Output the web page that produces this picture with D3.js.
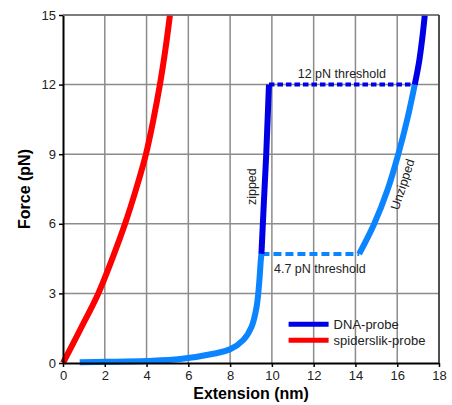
<!DOCTYPE html>
<meta charset="utf-8">
<style>
body { margin: 0; background: #fff; }
svg { font-family: "Liberation Sans", Arial, sans-serif; }
.grid line { stroke: #8c8c8c; stroke-width: 1.5; }
.axis .domain { stroke: #000; stroke-width: 2; }
.axis .tick line { stroke: #000; stroke-width: 1.5; }
.axis text { font-size: 13px; fill: #222; }
</style>
<svg width="452" height="405"></svg>
<script src="https://d3js.org/d3.v7.min.js"></script>
<script>

// tick values
var xTicks = [0, 2, 4, 6, 8, 10, 12, 14, 16, 18];
var yTicks = [0, 3, 6, 9, 12, 15];

// spiderslik-probe (red)
var spiderX = [0, 0.86, 1.69, 2.36, 2.97, 3.5, 3.97, 4.33, 4.64, 4.9, 5.12];
var spiderF = [0, 1.5, 3, 4.5, 6, 7.5, 9, 10.5, 12, 13.5, 15];

// DNA-probe, light blue stretch before the first threshold
var stretchX = [0.8, 2, 4, 5.6, 7.2, 8, 8.63, 9.03, 9.27, 9.39, 9.47, 9.5];
var stretchF = [0.03, 0.05, 0.09, 0.17, 0.4, 0.59, 0.99, 1.57, 2.43, 3.43, 4.44, 4.7];

// DNA-probe, zipped (dark blue)
var zippedX = [9.5, 9.62, 9.73, 9.8, 9.86];
var zippedF = [4.7, 7, 9, 10.6, 12];

// DNA-probe, unzipped (light blue)
var unzipX = [14.18, 14.9, 15.55, 16.05, 16.48, 16.84];
var unzipF = [4.7, 6, 7.5, 9, 10.5, 12];

// DNA-probe above 12 pN (dark blue)
var topX = [16.84, 17.05, 17.2, 17.32];
var topF = [12, 13, 14, 15];

// thresholds
var lowThreshold = {force: 4.7, from: 9.5, to: 14.18, label: "4.7 pN threshold"};
var highThreshold = {force: 12, from: 9.86, to: 16.84, label: "12 pN threshold"};

var legendNames = ["DNA-probe", "spiderslik-probe"];
var legendColors = ["#0000e6", "#ff0000"];

var darkBlue = "#0000e6", lightBlue = "#0a84ff", red = "#ff0000";

var svg = d3.select("svg"),
    margin = {top: 15, right: 13, bottom: 42, left: 63},
    width = +svg.attr("width") - margin.left - margin.right,
    height = +svg.attr("height") - margin.top - margin.bottom,
    g = svg.append("g").attr("transform", "translate(" + margin.left + "," + margin.top + ")");

var x = d3.scaleLinear().domain([0, 18]).range([0, width]);
var y = d3.scaleLinear().domain([0, 15]).range([height, 0]);

// grid
var grid = g.append("g").attr("class", "grid");
grid.selectAll(".gx")
  .data(xTicks.slice(1))
  .enter().append("line")
    .attr("x1", function(d) { return x(d); })
    .attr("x2", function(d) { return x(d); })
    .attr("y1", 0)
    .attr("y2", height);
grid.selectAll(".gy")
  .data(yTicks.slice(1))
  .enter().append("line")
    .attr("x1", 0)
    .attr("x2", width)
    .attr("y1", function(d) { return y(d); })
    .attr("y2", function(d) { return y(d); });

var line = d3.line()
    .x(function(d) { return x(d[0]); })
    .y(function(d) { return y(d[1]); })
    .curve(d3.curveCatmullRom.alpha(0.5));

function pairs(xs, fs) {
  return xs.map(function(v, i) { return [v, fs[i]]; });
}

function drawThreshold(t, color, dash) {
  g.append("line")
      .attr("x1", x(t.from))
      .attr("x2", x(t.to))
      .attr("y1", y(t.force))
      .attr("y2", y(t.force))
      .attr("stroke", color)
      .attr("stroke-width", 4)
      .attr("stroke-dasharray", dash);
}

drawThreshold(lowThreshold, lightBlue, "8,4");
drawThreshold(highThreshold, darkBlue, "5.5,3");

var curves = [
  {xs: stretchX, fs: stretchF, color: lightBlue},
  {xs: unzipX, fs: unzipF, color: lightBlue},
  {xs: zippedX, fs: zippedF, color: darkBlue},
  {xs: topX, fs: topF, color: darkBlue},
  {xs: spiderX, fs: spiderF, color: red}
];

curves.forEach(function(c) {
  g.append("path")
      .datum(pairs(c.xs, c.fs))
      .attr("fill", "none")
      .attr("stroke", c.color)
      .attr("stroke-width", 6)
      .attr("d", line);
});

// axes
g.append("g")
    .attr("class", "axis")
    .attr("transform", "translate(0," + height + ")")
    .call(d3.axisBottom(x).tickValues(xTicks).tickSize(4).tickSizeOuter(0).tickPadding(4));

g.append("g")
    .attr("class", "axis")
    .call(d3.axisLeft(y).tickValues(yTicks).tickSize(4).tickSizeOuter(0).tickPadding(3));

// frame on top and right
g.append("line").attr("x1", 0).attr("x2", width).attr("y1", 0).attr("y2", 0)
    .attr("stroke", "#6e6e6e").attr("stroke-width", 1.5);
g.append("line").attr("x1", width).attr("x2", width).attr("y1", 0).attr("y2", height)
    .attr("stroke", "#333").attr("stroke-width", 1.5);

// axis titles
svg.append("text")
    .attr("x", margin.left + width / 2)
    .attr("y", 399)
    .attr("text-anchor", "middle")
    .attr("font-size", 16)
    .attr("font-weight", "bold")
    .text("Extension (nm)");

svg.append("text")
    .attr("transform", "translate(30," + (margin.top + height / 2) + ") rotate(-90)")
    .attr("text-anchor", "middle")
    .attr("font-size", 16)
    .attr("font-weight", "bold")
    .text("Force (pN)");

// annotations
g.append("text")
    .attr("x", x(13.35))
    .attr("y", y(highThreshold.force) - 7)
    .attr("text-anchor", "middle")
    .attr("font-size", 12.5)
    .attr("fill", "#222")
    .text(highThreshold.label);

g.append("text")
    .attr("x", x(10.1))
    .attr("y", y(lowThreshold.force) + 19)
    .attr("font-size", 12.5)
    .attr("fill", "#222")
    .text(lowThreshold.label);

g.append("text")
    .attr("transform", "translate(" + (x(9.05)) + "," + y(7.6) + ") rotate(-90)")
    .attr("text-anchor", "middle")
    .attr("dy", "0.35em")
    .attr("font-size", 12.5)
    .attr("fill", "#222")
    .text("zipped");

g.append("text")
    .attr("transform", "translate(" + (x(16.25)) + "," + y(7.7) + ") rotate(-72)")
    .attr("text-anchor", "middle")
    .attr("dy", "0.35em")
    .attr("font-size", 12.5)
    .attr("fill", "#222")
    .text("Unzipped");

// legend
var legend = g.append("g")
    .selectAll("g")
    .data(legendNames)
    .enter().append("g")
      .attr("transform", function(d, i) { return "translate(" + (x(10.8)) + "," + (y(1.67) + i * 16) + ")"; });

legend.append("line")
    .attr("x1", 0)
    .attr("x2", 40)
    .attr("stroke", function(d, i) { return legendColors[i]; })
    .attr("stroke-width", 5);

legend.append("text")
    .attr("x", 45)
    .attr("dy", "0.35em")
    .attr("font-size", 13)
    .attr("fill", "#222")
    .text(function(d) { return d; });

</script>
